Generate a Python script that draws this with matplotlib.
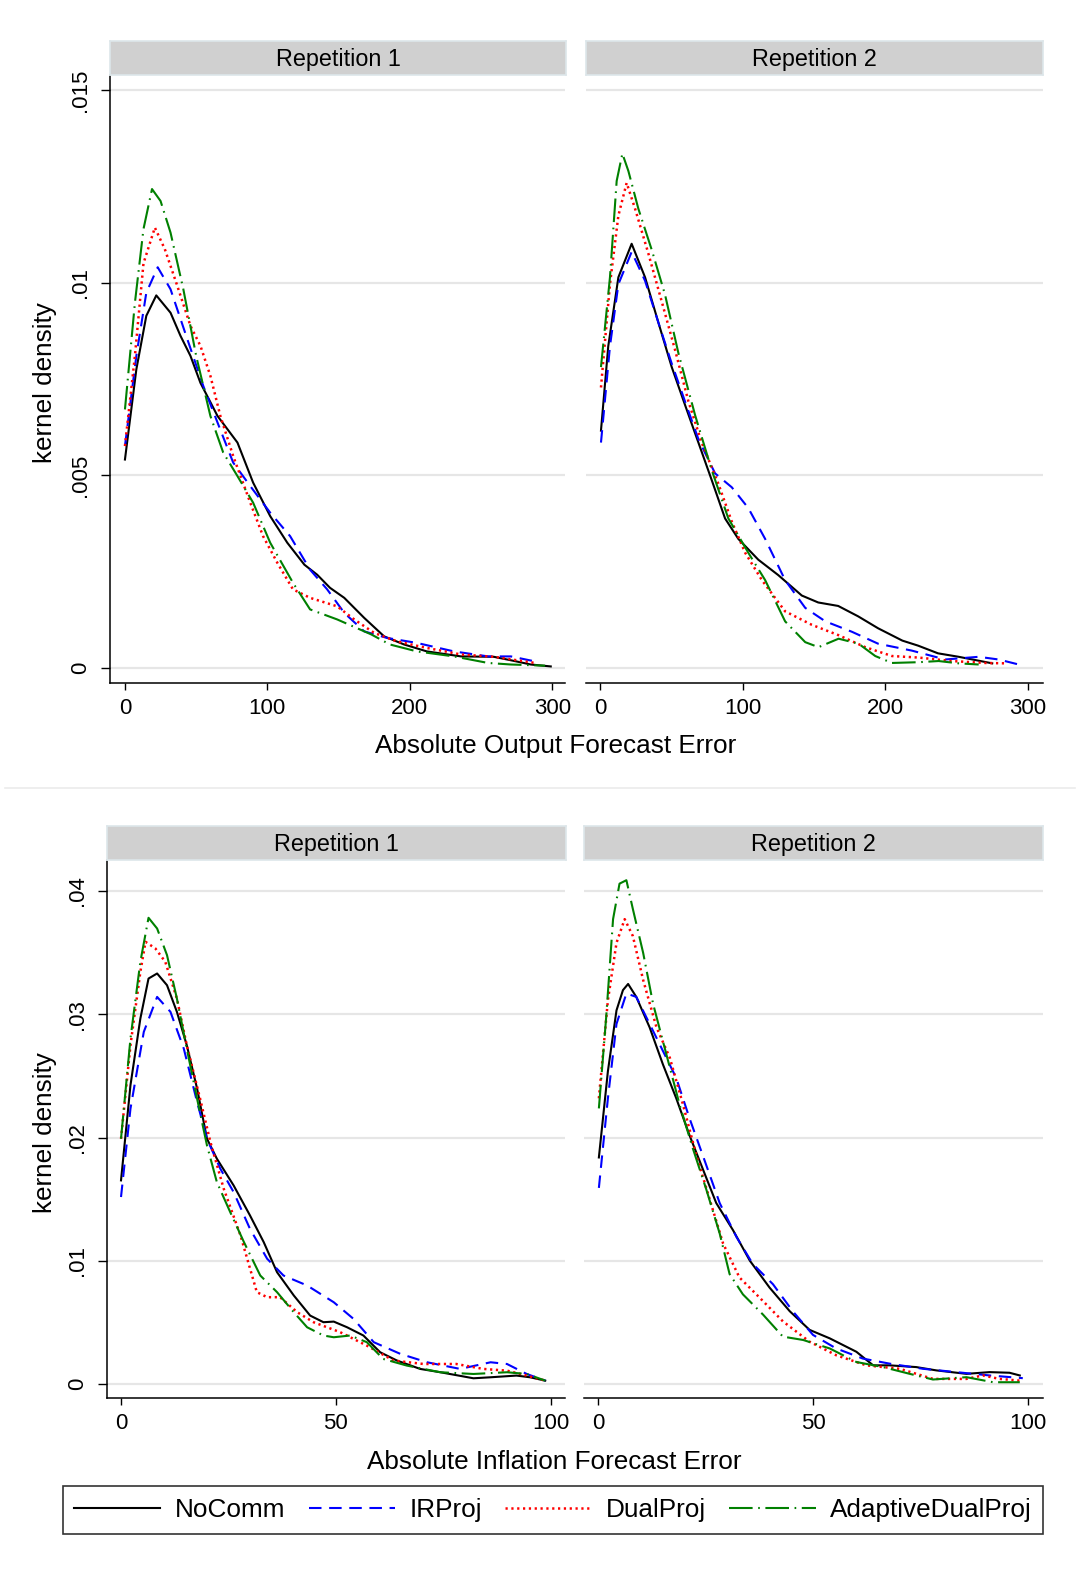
import matplotlib
matplotlib.use("Agg")
import matplotlib.pyplot as plt
from matplotlib.lines import Line2D

plt.rcParams['font.family'] = ['Liberation Sans', 'DejaVu Sans']
plt.rcParams['lines.scale_dashes'] = False

# ---- data (x = abs. forecast error, y = kernel density) ----
series_names = ["NoComm", "IRProj", "DualProj", "AdaptiveDualProj"]
panel_titles = ["Repetition 1", "Repetition 2"]
out_xlabel = "Absolute Output Forecast Error"
inf_xlabel = "Absolute Inflation Forecast Error"
ylabel = "kernel density"

out_xticks = [0, 100, 200, 300]
out_yticks = [0, 0.005, 0.01, 0.015]
out_yticklabels = ["0", ".005", ".01", ".015"]
inf_xticks = [0, 50, 100]
inf_yticks = [0, 0.01, 0.02, 0.03, 0.04]
inf_yticklabels = ["0", ".01", ".02", ".03", ".04"]

# Output, repetition 1
out1_nocomm_x = [0, 8, 15, 22, 32, 39, 46, 53, 65, 79, 90, 102, 114, 126, 135, 144, 154, 168, 182, 196, 212, 236, 259, 271, 285, 299]
out1_nocomm_y = [.00541, .00775, .00914, .00967, .00922, .00862, .0081, .0074, .00654, .00585, .00481, .00394, .00325,
                 .00268, .00242, .00208, .00182, .0013, .00082, .00061, .00043, .0003, .00029, .0002, .00009, .00004]
out1_irproj_x = [0, 8, 15, 23, 32, 43, 55, 65, 76, 88, 102, 116, 130, 142, 154, 168, 184, 205, 231, 255, 271, 288]
out1_irproj_y = [.00576, .0081, .00974, .0104, .00983, .00862, .00732, .00637, .00533, .00472, .00403, .00342,
                 .00255, .00204, .00143, .00095, .00078, .00065, .00043, .0003, .0003, .00017]
out1_dual_x = [0, 7, 13, 21, 28, 36, 46, 53, 60, 67, 76, 88, 97, 107, 118, 130, 149, 161, 175, 191, 212, 236, 259, 288]
out1_dual_y = [.00576, .0081, .0105, .01143, .01087, .01, .00888, .00836, .00758, .00654, .0055, .00429, .00342,
               .00273, .00204, .00182, .0016, .00126, .00091, .00069, .00052, .00035, .00029, .00013]
out1_adapt_x = [0, 7, 13, 19, 25, 32, 41, 50, 60, 69, 79, 90, 102, 118, 130, 149, 173, 186, 205, 231, 255, 271, 295]
out1_adapt_y = [.00671, .00948, .01139, .01243, .01212, .0113, .00983, .0081, .00654, .00559, .00498, .00429, .00325,
                .00221, .00152, .00126, .00087, .00061, .00043, .0003, .00013, .00009, .00006]

# Output, repetition 2
out2_nocomm_x = [0.7, 5.8, 12.9, 22.2, 31.6, 40.9, 50.3, 59.6, 69, 78.4, 87.7, 97, 111, 125, 141.5, 153, 167, 181,
                 195, 212, 223, 237, 251.5, 275]
out2_nocomm_y = [.00616, .00835, .01014, .01101, .01014, .00897, .00781, .00683, .00585, .00487, .00388, .00335,
                 .00281, .00241, .00188, .0017, .00161, .00134, .00103, .00071, .00058, .00038, .00029, .00012]
out2_irproj_x = [0.7, 7, 12.9, 22.2, 31.6, 40.9, 50.3, 59.6, 69, 80.7, 92.4, 104, 115.8, 129.8, 143.9, 158, 176.6,
                 195, 218.7, 242, 265.5, 279.5, 293.6]
out2_irproj_y = [.00585, .00835, .00996, .0108, .01005, .00897, .0079, .00692, .00594, .00505, .00469, .00415,
                 .00335, .00228, .00156, .00121, .00094, .00063, .00045, .00022, .00029, .00022, .00009]
out2_dual_x = [0.7, 7, 12.9, 18.7, 24.6, 33.9, 43.3, 52.6, 62, 71.3, 83, 92.4, 101.8, 113.5, 129.8, 148.5, 167.3,
               186, 204.7, 223.4, 246.8, 270.2, 284.2]
out2_dual_y = [.00728, .00996, .01174, .01259, .01192, .01076, .00951, .00826, .00692, .00585, .00478, .0038,
               .00299, .00228, .00147, .00112, .00085, .00054, .00031, .00027, .00018, .00013, .00012]
out2_adapt_x = [0.7, 7, 11.7, 15.7, 19.9, 26.9, 36.3, 45.6, 55, 66.7, 78.4, 90, 104, 115.8, 129.8, 143.9, 153.2,
                167.3, 181.3, 193, 204.7, 223.4, 237.4, 251.5, 265.5]
out2_adapt_y = [.00781, .01014, .01264, .01335, .0129, .01192, .01085, .00969, .00817, .00656, .00513, .00388,
                .00299, .00228, .00121, .00067, .00054, .00076, .00063, .00031, .00013, .00015, .00018, .00012, .00009]

# Inflation, repetition 1
inf1_nocomm_x = [0, 2.2, 4.5, 6.4, 8.4, 10.7, 13, 15.3, 17.7, 20, 22.3, 26.2, 30, 33.2, 36.3, 40.2, 44, 47.1, 49.5,
                 52.6, 56.4, 60.3, 64.2, 69.6, 74.3, 82, 85.9, 92, 95.2, 98.7]
inf1_nocomm_y = [.01652, .02424, .02965, .0329, .03331, .03236, .0302, .02749, .02397, .0199, .01828, .01611, .01368,
                 .01151, .00907, .00718, .00555, .00501, .00506, .0046, .00393, .00257, .0019, .00122, .00095, .00046,
                 .00054, .00068, .00054, .00027]
inf1_irproj_x = [0, 2.2, 5.3, 8.4, 11.5, 14.6, 17.7, 20, 23.1, 26.2, 30, 34, 37.8, 43.3, 49.5, 54.1, 58.8, 65, 71.2,
                 78.9, 86, 89.8, 94.4, 98.7]
inf1_irproj_y = [.01517, .02234, .02857, .03141, .0302, .02722, .02288, .0199, .01747, .01557, .01259, .01016, .0088,
                 .00799, .00663, .00528, .00339, .00244, .00176, .00122, .00176, .00162, .00081, .00027]
inf1_dual_x = [0, 2.2, 4.5, 5.7, 8, 10.3, 13, 15.3, 18.4, 20.8, 23.9, 27.8, 31.6, 34, 37, 41, 44.8, 51, 57.2, 63.4,
               70.4, 78, 84.3, 89.8, 94.4, 98.7]
inf1_dual_y = [.0199, .02749, .03344, .03588, .03534, .03426, .03128, .02749, .02315, .01963, .01584, .01205, .00745,
               .00704, .00704, .00582, .00501, .0042, .00311, .0019, .00162, .00162, .00122, .00108, .00068, .00027]
inf1_adapt_x = [0, 2.2, 4.5, 6.4, 8.4, 10.7, 13, 15.3, 17.7, 20, 22.3, 25.4, 28.6, 32.4, 36.3, 40.2, 43.3, 47.1, 49.5,
                53.3, 57.2, 61, 66.5, 74.3, 82, 89.8, 94.4, 98.7]
inf1_adapt_y = [.0199, .02803, .03426, .03783, .03696, .0348, .03128, .02722, .02315, .01936, .01638, .01395, .01151,
                .0088, .00745, .00582, .0046, .00393, .00379, .00393, .00339, .00203, .00149, .00095, .00081, .00095,
                .00081, .00027]

# Inflation, repetition 2
inf2_nocomm_x = [0.2, 2.3, 4.3, 5.8, 7, 8.9, 12, 15.1, 18.2, 21.3, 24.4, 27.5, 31.4, 35.3, 39.9, 44.6, 49.2, 53.9,
                 60.1, 64, 67.8, 74, 78.7, 85.7, 91.1, 95.7, 98.1]
inf2_nocomm_y = [.01838, .02538, .03032, .03196, .03246, .03141, .02894, .02593, .02318, .02016, .01742, .01468,
                 .01248, .01001, .00782, .0059, .00439, .0037, .00261, .00151, .00151, .00137, .0011, .00082, .00096,
                 .00091, .00069]
inf2_irproj_x = [0.2, 2.3, 4.3, 6.6, 8.9, 12, 15.1, 18.2, 21.3, 24.4, 28.3, 32.2, 36, 40.7, 45.3, 50, 55.4, 61.6,
                 67.8, 75.6, 83.3, 91.1, 98.8]
inf2_irproj_y = [.01591, .02318, .02922, .03169, .03141, .02922, .02702, .02483, .02154, .01852, .01468, .01193,
                 .00974, .00809, .0059, .00398, .00288, .00206, .00165, .00123, .00096, .00069, .00047]
inf2_dual_x = [0.2, 2.3, 4.3, 6.2, 8.1, 10.5, 13.6, 16.7, 19.8, 22.9, 26, 29.1, 32.9, 37.6, 43, 49.2, 55.4, 62.4,
               70.2, 77.9, 85.7, 89.5, 93.4, 98.1]
inf2_dual_y = [.02318, .03114, .0358, .03772, .03635, .03278, .02894, .02647, .02263, .01852, .01495, .01139, .00864,
               .007, .00508, .00343, .00233, .00151, .00123, .00041, .00041, .00069, .00041, .00027]
inf2_adapt_x = [0.2, 1.9, 3.5, 5, 6.6, 8.1, 10.5, 12.8, 15.9, 19, 22.1, 25.2, 28.3, 30.6, 33.7, 38.4, 43, 47.7,
                53.9, 60.1, 66.3, 72.5, 77.9, 85.7, 91.9, 98.1]
inf2_adapt_y = [.02236, .02977, .03772, .0406, .04088, .03855, .03498, .03086, .02675, .02263, .01907, .01577, .01221,
                .00892, .00727, .00562, .00384, .00357, .00288, .00178, .00137, .00082, .00036, .00055, .00014, .00014]

# ---- styles ----
styles = [
    dict(color='black', lw=1.5, linestyle='-'),
    dict(color='#0000ff', lw=1.5, linestyle=(0, (9, 5.5))),
    dict(color='#ff0000', lw=1.8, linestyle=(0, (1.6, 2.6))),
    dict(color='#008000', lw=1.5, linestyle=(0, (17, 4, 1.2, 4))),
]
grid_col = '#e6e6e6'
strip_col = '#d0d0d0'

fig = plt.figure(figsize=(10.8, 15.7), dpi=100)
W, H = 1080.0, 1570.0


def box(x0, y0, x1, y1):
    # pixel box (top-left origin) -> figure fraction rect
    return [x0 / W, 1 - y1 / H, (x1 - x0) / W, (y1 - y0) / H]


def panel(rect, strip_rect, title, data, xlim, ylim, xticks, yticks, yticklabels, first):
    ax = fig.add_axes(rect)
    for (xs, ys), st in zip(data, styles):
        ax.plot(xs, ys, **st)
    ax.set_xlim(*xlim)
    ax.set_ylim(*ylim)
    ax.set_yticks(yticks)
    ax.grid(axis='y', color=grid_col, lw=1.6)
    ax.set_axisbelow(True)
    ax.set_xticks(xticks)
    ax.set_xticklabels([str(t) for t in xticks])
    ax.tick_params(axis='x', length=5, width=1, pad=6, labelsize=16)
    for s in ['top', 'right']:
        ax.spines[s].set_visible(False)
    ax.spines['bottom'].set_linewidth(1.1)
    if first:
        ax.set_yticklabels(yticklabels)
        ax.tick_params(axis='y', length=6.5, width=1, pad=7, labelsize=16)
        for lab in ax.get_yticklabels():
            lab.set_rotation(90)
            lab.set_va('center')
        ax.spines['left'].set_linewidth(1.1)
    else:
        ax.spines['left'].set_visible(False)
        ax.tick_params(axis='y', length=0, labelleft=False)
    sax = fig.add_axes(strip_rect)
    sax.set_facecolor(strip_col)
    sax.set_xticks([])
    sax.set_yticks([])
    for s in sax.spines.values():
        s.set_color('#dde6ea')
        s.set_linewidth(1.2)
    sax.text(0.5, 0.47, title, ha='center', va='center', fontsize=16.8, transform=sax.transAxes)
    return ax


# top graph: output forecast error
out_ylim = (-0.00039, 0.01539)
out_xlim = (-10.5, 309)
panel(box(110, 75, 565, 683), box(110, 41, 566, 75), panel_titles[0],
      [(out1_nocomm_x, out1_nocomm_y), (out1_irproj_x, out1_irproj_y), (out1_dual_x, out1_dual_y),
       (out1_adapt_x, out1_adapt_y)],
      out_xlim, out_ylim, out_xticks, out_yticks, out_yticklabels, True)
panel(box(586, 75, 1043, 683), box(586, 41, 1043, 75), panel_titles[1],
      [(out2_nocomm_x, out2_nocomm_y), (out2_irproj_x, out2_irproj_y), (out2_dual_x, out2_dual_y),
       (out2_adapt_x, out2_adapt_y)],
      (-9.8, 310.6), out_ylim, out_xticks, out_yticks, out_yticklabels, False)

# bottom graph: inflation forecast error
inf_ylim = (-0.00114, 0.04252)
panel(box(107, 860, 565, 1398), box(107, 826, 566, 860), panel_titles[0],
      [(inf1_nocomm_x, inf1_nocomm_y), (inf1_irproj_x, inf1_irproj_y), (inf1_dual_x, inf1_dual_y),
       (inf1_adapt_x, inf1_adapt_y)],
      (-3.26, 103.3), inf_ylim, inf_xticks, inf_yticks, inf_yticklabels, True)
panel(box(584, 860, 1043, 1398), box(584, 826, 1043, 860), panel_titles[1],
      [(inf2_nocomm_x, inf2_nocomm_y), (inf2_irproj_x, inf2_irproj_y), (inf2_dual_x, inf2_dual_y),
       (inf2_adapt_x, inf2_adapt_y)],
      (-3.26, 103.5), inf_ylim, inf_xticks, inf_yticks, inf_yticklabels, False)

# axis titles
fig.text(556 / W, 1 - 746 / H, out_xlabel, ha='center', va='center', fontsize=18.8)
fig.text(554 / W, 1 - 1462 / H, inf_xlabel, ha='center', va='center', fontsize=18.8)
fig.text(45 / W, 1 - 383 / H, ylabel, ha='center', va='center', rotation=90, fontsize=18.8)
fig.text(45 / W, 1 - 1133 / H, ylabel, ha='center', va='center', rotation=90, fontsize=18.8)

# separator between the two graphs
fig.add_artist(Line2D([0.005, 0.995], [1 - 788 / H, 1 - 788 / H], color='#ebebeb', lw=1.2))

# legend
handles = [Line2D([], [], **st) for st in styles]
leg = fig.legend(handles, series_names, loc='center', bbox_to_anchor=(553 / W, 1 - 1510 / H), ncol=4,
                 frameon=True, fancybox=False, edgecolor='black', fontsize=18.8, handlelength=3.3,
                 handletextpad=0.55, columnspacing=0.9, borderpad=0.45, borderaxespad=0)
leg.get_frame().set_linewidth(1.2)

fig.savefig("out.png", dpi=100, facecolor='white')
